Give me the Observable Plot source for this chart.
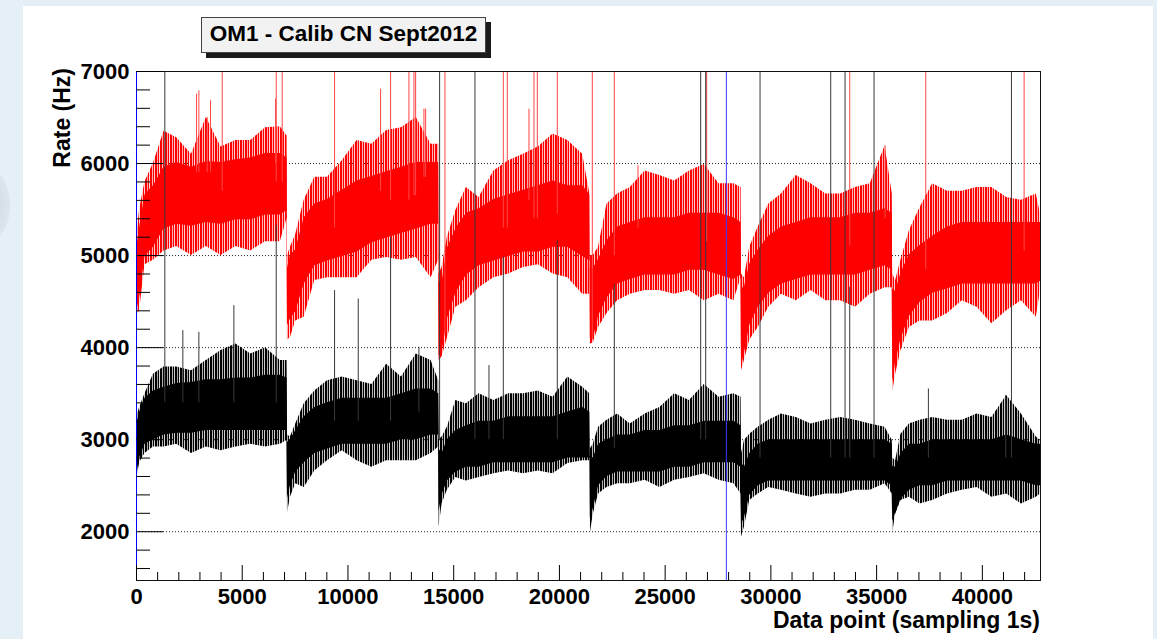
<!DOCTYPE html>
<html><head><meta charset="utf-8">
<script src="https://cdn.jsdelivr.net/npm/d3@7"></script>
<script src="https://cdn.jsdelivr.net/npm/@observablehq/plot@0.6"></script>
<style>
html,body{margin:0;padding:0;background:#e4eff6;}
#page{position:relative;width:1157px;height:639px;overflow:hidden;background:#e4eff6;font-family:"Liberation Sans",Arial,sans-serif;}
#blob{position:absolute;left:-34px;top:168px;width:44px;height:74px;border-radius:50%;background:radial-gradient(ellipse at 30% 50%,#c9d4da 0%,#d8e2e8 60%,#e4eff6 100%);}
#panel{position:absolute;left:23px;top:6px;width:1130px;height:640px;background:#fff;}
#chart{position:absolute;left:0;top:0;}
#title{position:absolute;left:201px;top:17px;width:283px;height:34px;background:#f2f2f2;border:1px solid #444;box-shadow:5px 5px 0 #1a1a1a;font-weight:bold;font-size:22.5px;text-align:center;line-height:31px;color:#000;white-space:nowrap;}
#ytitle{position:absolute;left:50px;top:268px;width:200px;height:24px;line-height:24px;text-align:right;transform-origin:0 0;transform:rotate(-90deg);font-weight:bold;font-size:23px;color:#000;white-space:nowrap;}
#xtitle{position:absolute;right:117px;top:608px;font-weight:bold;font-size:23px;line-height:24px;color:#000;white-space:nowrap;}
</style></head>
<body>
<div id="page">
  <div id="blob"></div>
  <div id="panel"></div>
  <div id="chart"></div>
  <div id="title">OM1 - Calib CN Sept2012</div>
  <div id="ytitle">Rate (Hz)</div>
  <div id="xtitle">Data point (sampling 1s)</div>
</div>
<script>
// ---- data ----
const xs = [
  0,150,400,800,1300,1900,2600,3300,4000,4700,5400,6100,6800,7120,
  7140,7280,7530,7930,8430,9030,9730,10430,11130,11830,12530,13230,13930,14290,
  14310,14450,14700,15100,15600,16200,16900,17600,18300,19000,19700,20400,21100,21440,
  21460,21600,21850,22250,22750,23350,24050,24750,25450,26150,26850,27550,28250,28590,
  28610,28750,29000,29400,29900,30500,31200,31900,32600,33300,34000,34700,35400,35740,
  35760,35900,36150,36550,37050,37650,38350,39050,39750,40450,41150,41850,42550,42750];

const redEnvHi = [
  5200,5500,5800,6000,6350,6280,6100,6500,6180,6250,6250,6390,6400,6300,
  5000,5090,5230,5600,5850,5850,6030,6250,6210,6360,6390,6500,6210,6210,
  4800,4870,5200,5490,5740,5630,5920,6030,6100,6180,6320,6250,6100,5670,
  5000,5000,5090,5560,5670,5740,5920,5870,5810,5920,5990,5780,5780,5740,
  4800,4760,5090,5310,5560,5670,5870,5780,5670,5670,5740,5780,6190,5670,
  4800,4730,4950,5270,5520,5780,5700,5700,5740,5740,5630,5600,5670,5450];
const redCoreHi = [
  5060,5310,5660,5760,5960,6010,5960,6020,6010,6040,6060,6110,6110,6060,
  4860,5010,5060,5410,5560,5610,5710,5810,5860,5910,5960,6010,6010,6010,
  4710,4710,5080,5290,5460,5510,5610,5660,5710,5760,5810,5760,5760,5660,
  4860,4860,4960,5160,5310,5360,5410,5410,5410,5460,5460,5460,5410,5360,
  4640,4660,4910,5060,5210,5310,5360,5410,5410,5410,5460,5460,5510,5460,
  4640,4610,4810,5010,5110,5210,5310,5360,5360,5360,5360,5360,5360,5360];
const redCoreLo = [
  4390,4540,4990,5090,5290,5340,5320,5360,5340,5390,5390,5440,5440,5490,
  4240,4310,4390,4690,4890,4940,4990,5040,5140,5190,5240,5290,5340,5340,
  3910,3940,4310,4590,4790,4890,4940,4990,5040,5040,5090,5090,4990,4940,
  4090,4090,4340,4540,4690,4740,4790,4790,4790,4840,4840,4790,4740,4790,
  3800,3940,4240,4440,4590,4690,4740,4790,4790,4790,4790,4840,4890,4840,
  3620,3840,4090,4340,4490,4590,4640,4690,4690,4690,4690,4690,4690,4720];
const redEnvLo = [
  4350,4400,4900,4950,5050,5100,5000,5100,5000,5100,5050,5150,5150,5400,
  4080,4110,4290,4330,4730,4760,4760,4760,4950,4980,4950,4980,4760,4950,
  3860,3900,4100,4440,4510,4650,4760,4800,4870,4900,4800,4760,4580,4580,
  4040,4050,4220,4370,4510,4580,4620,4620,4580,4620,4510,4580,4510,4760,
  3750,3860,4080,4220,4440,4580,4510,4620,4510,4510,4440,4580,4650,4650,
  3515,3710,3970,4220,4290,4290,4370,4510,4440,4260,4400,4510,4330,4620];

const blackEnvHi = [
  3250,3350,3500,3710,3790,3790,3750,3860,3970,4040,3930,4000,3860,3860,
  3050,3030,3170,3390,3530,3640,3680,3640,3600,3820,3680,3930,3860,3640,
  3000,3030,3135,3425,3390,3500,3425,3500,3500,3530,3460,3680,3570,3500,
  2900,2950,3135,3210,3280,3170,3280,3350,3500,3425,3600,3460,3500,3460,
  2850,2990,3060,3135,3210,3280,3240,3170,3210,3240,3210,3170,3135,2990,
  2800,2770,3060,3170,3210,3240,3210,3210,3280,3240,3480,3280,3030,2990];
const blackCoreHi = [
  3150,3300,3450,3530,3570,3610,3620,3650,3650,3670,3670,3700,3700,3670,
  2970,3000,3100,3250,3350,3400,3450,3450,3450,3450,3500,3550,3550,3500,
  2900,2850,3000,3100,3150,3200,3200,3250,3250,3250,3250,3300,3350,3300,
  2820,2800,2950,3000,3050,3050,3100,3100,3150,3150,3200,3200,3200,3150,
  2750,2700,2850,2950,3000,3000,3000,3000,3000,3000,3000,3000,3000,2950,
  2710,2700,2850,2950,2950,3000,3000,3000,3000,3000,3050,3000,2950,2950];
const blackCoreLo = [
  2600,2800,2950,3000,3050,3070,3070,3100,3100,3100,3100,3100,3100,3100,
  2360,2500,2650,2750,2850,2900,2950,2950,2950,2950,3000,3000,3050,3050,
  2220,2400,2550,2650,2700,2700,2750,2750,2750,2750,2750,2800,2800,2800,
  2150,2250,2500,2600,2650,2650,2650,2650,2700,2700,2750,2750,2750,2700,
  2080,2150,2400,2500,2550,2550,2550,2550,2550,2550,2550,2550,2550,2500,
  2110,2200,2350,2450,2500,2500,2550,2550,2550,2550,2550,2550,2500,2500];
const blackEnvLo = [
  2550,2750,2850,2920,2920,2950,2850,2920,2880,2920,2950,2920,2950,2990,
  2200,2375,2520,2480,2660,2770,2880,2770,2700,2770,2770,2770,2850,2920,
  2050,2300,2450,2590,2550,2590,2630,2660,2630,2660,2630,2740,2770,2770,
  1980,2190,2410,2480,2520,2520,2560,2480,2560,2590,2630,2560,2520,2410,
  1940,2050,2340,2410,2480,2450,2410,2375,2410,2410,2450,2450,2520,2410,
  1980,2190,2340,2375,2300,2340,2410,2450,2480,2375,2410,2300,2375,2410];

// isolated spikes: position, base, tip
const redSpikeX    = [4053,6608,6891,9367,12016,12883,13120,13200,14586,17346,17535,18797,18955,19900,21555,22596,26964,33728,37323,41975,
                      2840,2949,3343,3501,6576,11543,13593,13672,18560,23715,35399];
const redSpikeBase = [5700,5800,5800,5300,5600,5600,5650,5650,4150,5300,5300,5400,5400,5450,4100,5000,5150,5100,4850,5050,
                      5900,5900,5900,5900,6000,5700,5850,5850,5600,5300,5400];
const redSpikeTip  = [7000,7000,7000,7000,7000,7000,7000,7000,7000,7000,7000,7000,7000,7000,7000,7000,7000,7000,7000,7000,
                      6754,6790,6500,6682,6700,6808,6591,6591,6591,5976,6193];
const blackSpikeX    = [1340,14334,16006,26680,26917,29487,32829,33507,34879,41376,
                        6608,9367,10486,12016,17346,19900,22596,33728,2192,4605,2949,13356,16668,37449,41108];
const blackSpikeBase = [3400,3000,3000,3000,3000,2800,2800,2800,2800,2800,
                        3400,3200,3200,3200,3000,3000,2900,2800,3400,3400,3400,3300,3000,2800,2800];
const blackSpikeTip  = [7000,7000,7000,7000,7000,7000,7000,7000,7000,7000,
                        5325,4620,4528,5198,4981,5162,4691,4655,4185,4456,4166,4004,3805,3551,3479];
const markerX = [27895];

const yMajor = [2000,3000,4000,5000,6000,7000];
const yMinor = [1600,1800,2200,2400,2600,2800,3200,3400,3600,3800,4200,4400,4600,4800,5200,5400,5600,5800,6200,6400,6600,6800];
const xMajor = [0,5000,10000,15000,20000,25000,30000,35000,40000];
const xMinor = [1000,2000,3000,4000,6000,7000,8000,9000,11000,12000,13000,14000,16000,17000,18000,19000,21000,22000,23000,24000,26000,27000,28000,29000,31000,32000,33000,34000,36000,37000,38000,39000,41000,42000];

// ---- build tables ----
const rows = xs.map((x, i) => ({x,
  rLo: redEnvLo[i], rCLo: redCoreLo[i], rCHi: redCoreHi[i], rHi: redEnvHi[i],
  bLo: blackEnvLo[i], bCLo: blackCoreLo[i], bCHi: blackCoreHi[i], bHi: blackEnvHi[i]}));
const redSpikes = redSpikeX.map((x, i) => ({x, y1: redSpikeBase[i], y2: redSpikeTip[i]}));
const blackSpikes = blackSpikeX.map((x, i) => ({x, y1: blackSpikeBase[i], y2: blackSpikeTip[i]}));

// fine vertical texture for the noisy fringe of each trace (style only)
function patterns() {
  const defs = d3.create("svg:defs");
  [["redNoise", "#ff0000"], ["blackNoise", "#000000"]].forEach(([id, c]) => {
    const p = defs.append("pattern").attr("id", id).attr("width", 10).attr("height", 6).attr("patternUnits", "userSpaceOnUse");
    [[0, 2, 1], [2, 1, 0.3], [3, 1, 1], [4, 1, 0.2], [5, 2, 1], [7, 1, 0.35], [8, 1, 1], [9, 1, 0.15]].forEach(([x, w, o]) =>
      p.append("rect").attr("x", x).attr("width", w).attr("height", 6).attr("fill", c).attr("fill-opacity", o));
  });
  return defs.node();
}

const chart = Plot.plot({
  width: 1157, height: 639,
  marginLeft: 136, marginRight: 117, marginTop: 71, marginBottom: 59,
  x: {domain: [0, 42750]},
  y: {domain: [1470, 7000]},
  style: {background: "transparent", fontFamily: "'Liberation Sans', Arial, sans-serif", fontSize: "22px", fontWeight: "bold", color: "#000"},
  marks: [
    patterns,
    Plot.gridY(yMajor, {stroke: "#222", strokeOpacity: 1, strokeDasharray: "1,2"}),
    Plot.areaY(rows, {x: "x", y1: "rLo", y2: "rHi", fill: "url(#redNoise)", clip: true}),
    Plot.areaY(rows, {x: "x", y1: "rCLo", y2: "rCHi", fill: "#ff0000", clip: true}),
    Plot.ruleX(redSpikes, {x: "x", y1: "y1", y2: "y2", stroke: "#ff4545", clip: true}),
    Plot.areaY(rows, {x: "x", y1: "bLo", y2: "bHi", fill: "url(#blackNoise)", clip: true}),
    Plot.areaY(rows, {x: "x", y1: "bCLo", y2: "bCHi", fill: "#000", clip: true}),
    Plot.ruleX(blackSpikes, {x: "x", y1: "y1", y2: "y2", stroke: "#383838", clip: true}),
    Plot.ruleX(markerX, {stroke: "#3a3aff"}),
    Plot.frame({stroke: "#111"}),
    Plot.ruleX([0], {stroke: "#0000ff"}),
    Plot.axisY(yMajor, {anchor: "left", tickSize: -27, tickPadding: 34, label: null, fontWeight: "bold", fontSize: 22, tickFormat: d => String(d)}),
    Plot.axisY(yMinor, {anchor: "left", tickSize: -14, label: null, tickFormat: () => ""}),
    Plot.axisX(xMajor, {anchor: "bottom", tickSize: -15, tickPadding: 23, label: null, fontWeight: "bold", fontSize: 22, tickFormat: d => String(d)}),
    Plot.axisX(xMinor, {anchor: "bottom", tickSize: -8, label: null, tickFormat: () => ""})
  ]
});
document.getElementById("chart").appendChild(chart);
</script>
</body></html>
